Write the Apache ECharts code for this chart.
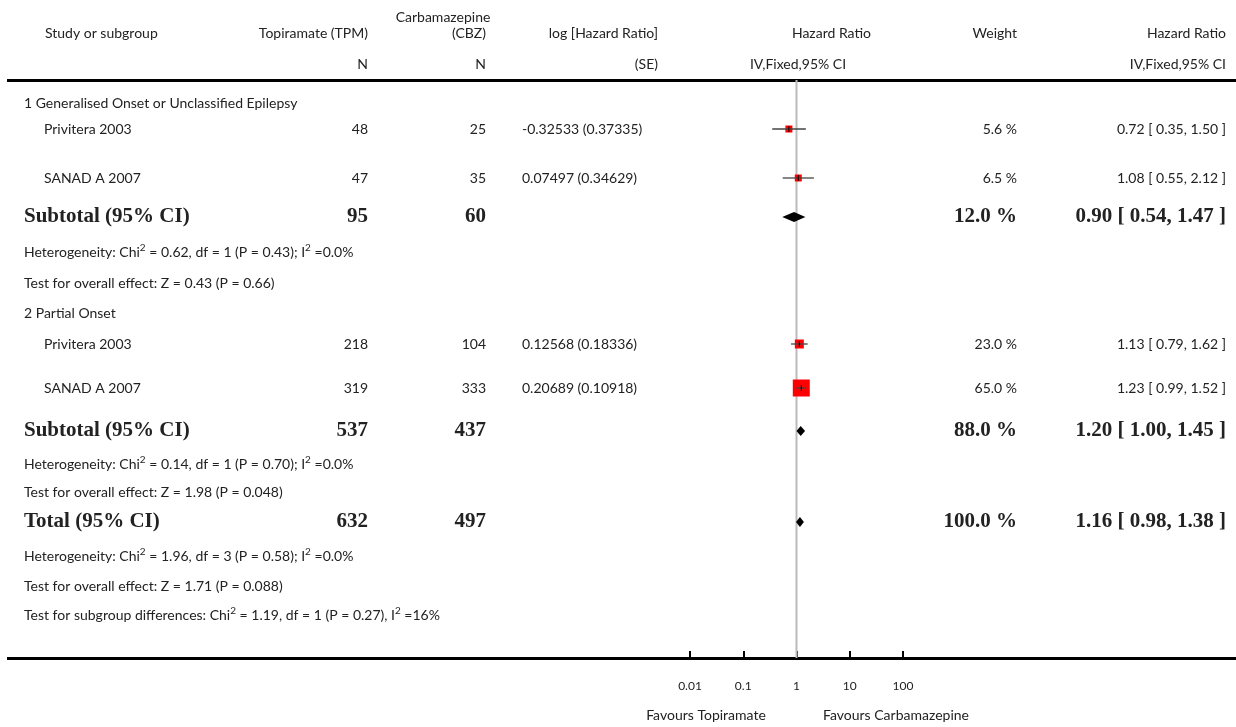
<!DOCTYPE html>
<html><head><meta charset="utf-8">
<script src="https://cdn.jsdelivr.net/npm/echarts@6/dist/echarts.min.js"></script>
<style>html,body{margin:0;padding:0;background:#fff}#c{width:1236px;height:727px}</style>
</head><body><div id="c"></div>
<script>
// ---- data ----
const studies = ['Privitera 2003','SANAD A 2007','Privitera 2003','SANAD A 2007'];
const tpmN = [48,47,218,319];
const cbzN = [25,35,104,333];
const logHR = ['-0.32533 (0.37335)','0.07497 (0.34629)','0.12568 (0.18336)','0.20689 (0.10918)'];
const hr = [0.72,1.08,1.13,1.23];
const lo = [0.35,0.55,0.79,0.99];
const hi = [1.50,2.12,1.62,1.52];
const weight = [5.6,6.5,23.0,65.0];
const subLabels = ['Subtotal (95% CI)','Subtotal (95% CI)','Total (95% CI)'];
const subTpm = [95,537,632];
const subCbz = [60,437,497];
const subHR = [0.90,1.20,1.16];
const subLo = [0.54,1.00,0.98];
const subHi = [1.47,1.45,1.38];
const subW = [12.0,88.0,100.0];
const tickLabels = ['0.01','0.1','1','10','100'];

// ---- layout ----
const studyY=[129,178,344,388], subY=[217,431,522];
const sqSize = [7,7,9,17];
const F = 'Lato, "Open Sans", sans-serif';
const SF = '"Liberation Serif", "DejaVu Serif", serif';
const g = [];
function T(x,y,s,align,opts){opts=opts||{};
  g.push({type:'text',x:x,y:y,style:{text:s,textAlign:align||'left',textVerticalAlign:'middle',
  font:(opts.bold?'bold ':'')+(opts.size||14)+'px '+(opts.serif?SF:F),fill:'#222'}});}
T(45,33,'Study or subgroup'); T(368,33,'Topiramate (TPM)','right');
T(443,17,'Carbamazepine','center'); T(486,33,'(CBZ)','right');
T(658,33,'log [Hazard Ratio]','right'); T(871,33,'Hazard Ratio','right');
T(1017,33,'Weight','right'); T(1226,33,'Hazard Ratio','right');
T(368,64,'N','right'); T(486,64,'N','right'); T(658,64,'(SE)','right');
T(798,64,'IV,Fixed,95% CI','center'); T(1226,64,'IV,Fixed,95% CI','right');
g.push({type:'rect',shape:{x:7,y:79,width:1229,height:3},style:{fill:'#000'}});
g.push({type:'rect',shape:{x:7,y:657,width:1229,height:3},style:{fill:'#000'},z:-1});
T(24,103,'1 Generalised Onset or Unclassified Epilepsy');
T(24,313,'2 Partial Onset');
const f=v=>v.toFixed(2);
studies.forEach((s,i)=>{const y=studyY[i];
  T(44,y,s); T(368,y,String(tpmN[i]),'right'); T(486,y,String(cbzN[i]),'right');
  T(522,y,logHR[i]); T(1017,y,weight[i].toFixed(1)+' %','right');
  T(1226,y,f(hr[i])+' [ '+f(lo[i])+', '+f(hi[i])+' ]','right');});
subLabels.forEach((s,i)=>{const y=subY[i],o={bold:true,serif:true,size:21};
  T(24,y,s,'left',o); T(368,y,String(subTpm[i]),'right',o); T(486,y,String(subCbz[i]),'right',o);
  T(1017,y,subW[i].toFixed(1)+' %','right',o);
  T(1226,y,f(subHR[i])+' [ '+f(subLo[i])+', '+f(subHi[i])+' ]','right',o);});
const rich={s:{fontSize:10,verticalAlign:'top',padding:[0,0,8,0],fontFamily:'Lato'}};
const R=(y,s)=>g.push({type:'text',x:24,y:y,style:{text:s,textVerticalAlign:'middle',font:'14px '+F,fill:'#222',rich:rich}});
R(252,'Heterogeneity: Chi{s|2} = 0.62, df = 1 (P = 0.43); I{s|2} =0.0%');
R(283,'Test for overall effect: Z = 0.43 (P = 0.66)');
R(464,'Heterogeneity: Chi{s|2} = 0.14, df = 1 (P = 0.70); I{s|2} =0.0%');
R(492,'Test for overall effect: Z = 1.98 (P = 0.048)');
R(556,'Heterogeneity: Chi{s|2} = 1.96, df = 3 (P = 0.58); I{s|2} =0.0%');
R(586,'Test for overall effect: Z = 1.71 (P = 0.088)');
R(615,'Test for subgroup differences: Chi{s|2} = 1.19, df = 1 (P = 0.27), I{s|2} =16%');
T(706,715,'Favours Topiramate','center'); T(896,715,'Favours Carbamazepine','center');

const chart=echarts.init(document.getElementById('c'));
const studyData=hr.map((v,i)=>[v,studyY[i],lo[i],hi[i],sqSize[i]]);
const subData=subHR.map((v,i)=>[v,subY[i],subLo[i],subHi[i]]);
chart.setOption({
  animation:false,
  grid:{left:690,width:213,top:0,bottom:727-658},
  xAxis:{type:'log',position:'bottom',min:0.01,max:100,logBase:10,splitLine:{show:false},
    axisLine:{show:true,onZero:false,lineStyle:{color:'#000',width:3}},
    axisTick:{show:true,inside:true,length:7,lineStyle:{color:'#000',width:2}},
    axisLabel:{margin:22,fontFamily:'Lato',fontSize:12,color:'#222',formatter:v=>tickLabels[Math.round(Math.log10(v))+2]}},
  yAxis:{type:'value',inverse:true,min:0,max:658,show:false},
  graphic:g,
  series:[
    {type:'line',data:[[1,80],[1,658]],symbol:'none',lineStyle:{color:'#bbb',width:2},z:1},
    {type:'custom',data:studyData,z:3,renderItem:(p,api)=>{
      const c=api.coord([api.value(0),api.value(1)]);const l=api.coord([api.value(2),api.value(1)]);
      const h=api.coord([api.value(3),api.value(1)]);const s=api.value(4);
      return {type:'group',children:[
        {type:'rect',shape:{x:c[0]-s/2,y:c[1]-s/2,width:s,height:s},style:{fill:'#f00'}},
        {type:'line',shape:{x1:l[0],y1:c[1],x2:h[0],y2:c[1]},style:{stroke:'#444',lineWidth:1.3}},
        {type:'line',shape:{x1:c[0],y1:c[1]-3,x2:c[0],y2:c[1]+3},style:{stroke:'#000',lineWidth:1}}]};}},
    {type:'custom',data:subData,z:3,renderItem:(p,api)=>{
      const c=api.coord([api.value(0),api.value(1)]);const l=api.coord([api.value(2),api.value(1)]);
      const h=api.coord([api.value(3),api.value(1)]);
      return {type:'polygon',shape:{points:[[l[0],c[1]],[c[0],c[1]-5],[h[0],c[1]],[c[0],c[1]+5]]},style:{fill:'#000'}};}}
  ]
});
</script>
</body></html>
